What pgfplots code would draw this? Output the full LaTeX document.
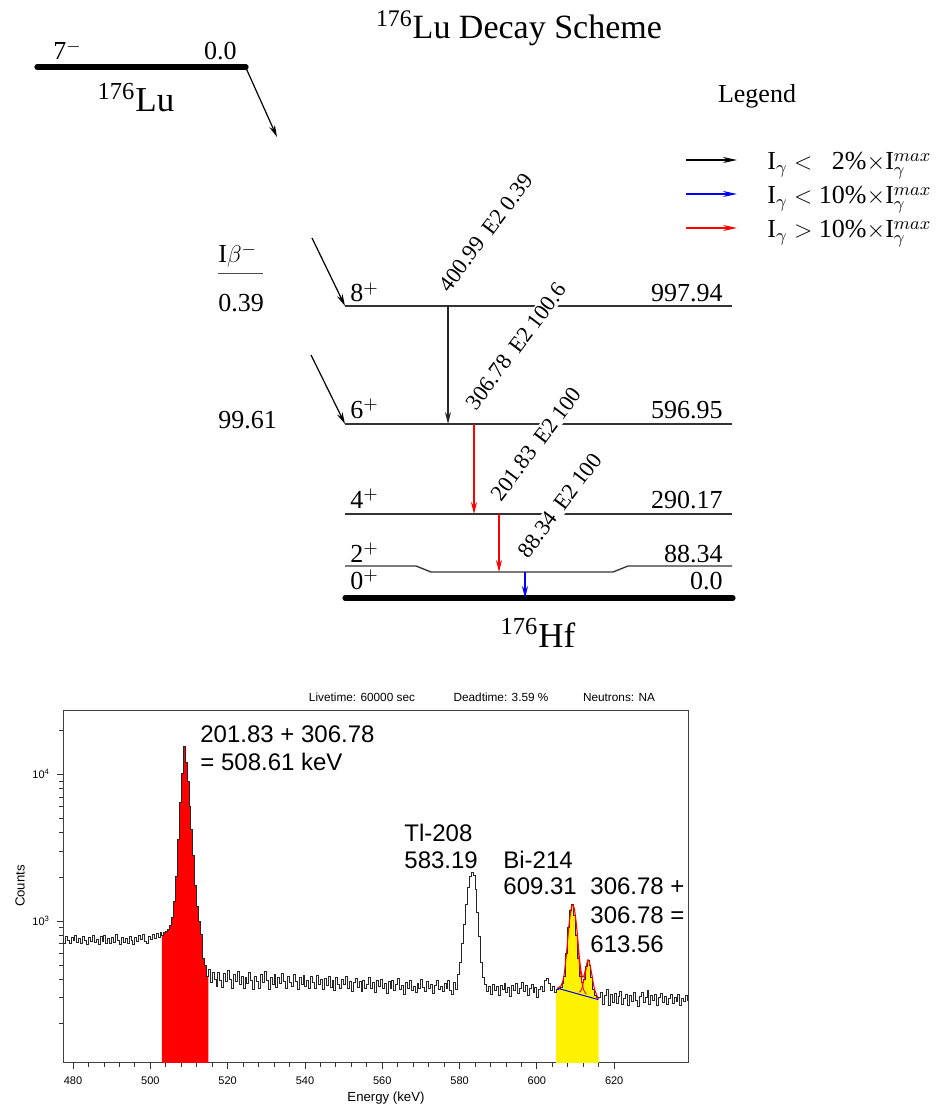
\documentclass[border=0pt]{standalone}
\usepackage{fontspec}
\setmainfont{Liberation Serif}
\newfontfamily\arial{Liberation Sans}
\usepackage{pgfplots}
\pgfplotsset{compat=1.18}
\usepackage{pgfplotstable}
\usetikzlibrary{arrows.meta}

\newcommand\fLev{\fontsize{13}{15}\selectfont}
\newcommand\fTr{\fontsize{11.2}{13}\selectfont}
\newcommand\fTitle{\fontsize{17}{20}\selectfont}
\newcommand\fNuc{\fontsize{17.5}{20}\selectfont}
\newcommand\fAnn{\arial\fontsize{12}{14}\selectfont}
\newcommand\fSmall{\arial\fontsize{5.9}{7}\selectfont}
\newcommand\fLab{\arial\fontsize{6.6}{8}\selectfont}

\pgfplotstableread{
E C
477.0 760
477.5 705
478.0 790
478.5 740
479.0 700
479.5 775
480.0 735
480.5 798
481.0 720
481.5 760
482.0 700
482.5 785
483.0 742
483.5 695
484.0 770
484.5 725
485.0 800
485.5 715
486.0 755
486.5 690
487.0 780
487.5 730
488.0 792
488.5 705
489.0 760
489.5 700
490.0 770
490.5 718
491.0 805
491.5 740
492.0 698
492.5 775
493.0 720
493.5 765
494.0 708
494.5 790
495.0 735
495.5 695
496.0 770
496.5 725
497.0 800
497.5 745
498.0 810
498.5 730
499.0 705
499.5 790
500.0 748
500.5 812
501.0 760
501.5 825
502.0 775
502.5 830
503.0 800
503.5 830
504.0 850
504.5 880
505.0 930
505.5 1050
506.0 1350
506.5 2000
507.0 3600
507.5 6400
508.0 10200
508.5 15400
509.0 12000
509.5 9000
510.0 6000
510.5 4200
511.0 2800
511.5 1750
512.0 1250
512.5 1000
513.0 810
513.5 560
514.0 500
514.5 420
515.0 470
515.5 380
516.0 445
516.5 400
517.0 360
517.5 450
518.0 395
518.5 355
519.0 440
519.5 385
520.0 460
520.5 400
521.0 350
521.5 430
522.0 390
522.5 455
523.0 370
523.5 420
524.0 345
524.5 410
525.0 375
525.5 445
526.0 395
526.5 340
527.0 420
527.5 385
528.0 350
528.5 435
529.0 380
529.5 455
530.0 395
530.5 340
531.0 410
531.5 370
532.0 430
532.5 352
533.0 415
533.5 375
534.0 440
534.5 390
535.0 345
535.5 420
536.0 380
536.5 360
537.0 430
537.5 385
538.0 340
538.5 410
539.0 372
539.5 425
540.0 360
540.5 395
541.0 345
541.5 418
542.0 380
542.5 350
543.0 425
543.5 370
544.0 398
544.5 340
545.0 405
545.5 365
546.0 420
546.5 355
547.0 392
547.5 338
548.0 410
548.5 368
549.0 345
549.5 400
550.0 372
550.5 418
551.0 350
551.5 390
552.0 332
552.5 380
553.0 405
553.5 355
554.0 385
554.5 330
555.0 395
555.5 350
556.0 372
556.5 415
557.0 345
557.5 380
558.0 328
558.5 392
559.0 360
559.5 402
560.0 345
560.5 375
561.0 320
561.5 385
562.0 350
562.5 395
563.0 338
563.5 372
564.0 405
564.5 340
565.0 365
565.5 318
566.0 380
566.5 350
567.0 392
567.5 335
568.0 360
568.5 325
569.0 378
569.5 345
570.0 400
570.5 355
571.0 330
571.5 385
572.0 348
572.5 372
573.0 322
573.5 365
574.0 395
574.5 340
575.0 360
575.5 330
576.0 378
576.5 345
577.0 395
577.5 335
578.0 318
578.5 380
579.0 340
579.5 430
580.0 520
580.5 700
581.0 950
581.5 1300
582.0 1700
582.5 2000
583.0 2150
583.5 2050
584.0 1650
584.5 1150
585.0 780
585.5 520
586.0 410
586.5 370
587.0 330
587.5 360
588.0 318
588.5 372
589.0 335
589.5 358
590.0 310
590.5 365
591.0 340
591.5 378
592.0 325
592.5 355
593.0 305
593.5 362
594.0 338
594.5 375
595.0 320
595.5 350
596.0 380
596.5 330
597.0 362
597.5 312
598.0 348
598.5 372
599.0 325
599.5 355
600.0 300
600.5 342
601.0 360
601.5 330
602.0 395
602.5 405
603.0 375
603.5 335
604.0 360
604.5 325
605.0 340
605.5 345
606.0 355
606.5 375
607.0 420
607.5 600
608.0 900
608.5 1180
609.0 1290
609.5 1100
610.0 800
610.5 560
611.0 420
611.5 380
612.0 400
612.5 490
613.0 540
613.5 500
614.0 410
614.5 340
615.0 310
615.5 300
616.0 300
616.5 325
617.0 270
617.5 310
618.0 340
618.5 265
619.0 315
619.5 280
620.0 322
620.5 275
621.0 305
621.5 330
622.0 270
622.5 298
623.0 318
623.5 268
624.0 312
624.5 285
625.0 328
625.5 290
626.0 262
626.5 305
627.0 325
627.5 278
628.0 300
628.5 335
629.0 272
629.5 310
630.0 288
630.5 318
631.0 265
631.5 300
632.0 322
632.5 280
633.0 308
633.5 270
634.0 295
634.5 318
635.0 275
635.5 302
636.0 285
636.5 315
637.0 268
637.5 298
638.0 282
638.5 310
639.0 290
639.5 292
}\spec

\begin{document}
\begin{tikzpicture}
% ---------- decay scheme (pixel layout) ----------
\begin{axis}[at={(0pt,0pt)}, anchor=south west, width=470pt, height=553pt,
  scale only axis, xmin=0, xmax=940, ymin=0, ymax=1106, y dir=reverse,
  hide axis, clip=false]
% parent level 176Lu
\addplot[black, line width=2.6pt, line cap=round] coordinates {(37,67) (246,67)};
\addplot[black, line width=0.6pt, -{Stealth[length=6pt,width=3pt]}] coordinates {(246,68) (277,137)};
% daughter levels
\addplot[black!80, line width=0.65pt] coordinates {(345,306) (732,306)};
\addplot[black!80, line width=0.65pt] coordinates {(345,424) (732,424)};
\addplot[black!80, line width=0.65pt] coordinates {(345,514) (732,514)};
\addplot[black!80, line width=0.65pt] coordinates {(345,566) (416,566) (431,572) (613,572) (628,566) (732,566)};
\addplot[black, line width=2.6pt, line cap=round] coordinates {(345,598) (733,598)};
% beta feeding
\addplot[black, line width=0.6pt, -{Stealth[length=6pt,width=3pt]}] coordinates {(312,238) (345,306)};
\addplot[black, line width=0.6pt, -{Stealth[length=6pt,width=3pt]}] coordinates {(311,355) (345,424)};
% gamma transitions
\addplot[black!85, line width=0.6pt, -{Stealth[length=6pt,width=3pt]}] coordinates {(448,306) (448,424)};
\addplot[red, line width=0.6pt, -{Stealth[length=6pt,width=3pt]}] coordinates {(474,424) (474,514)};
\addplot[red, line width=0.6pt, -{Stealth[length=6pt,width=3pt]}] coordinates {(499,514) (499,572)};
\addplot[blue, line width=0.6pt, -{Stealth[length=6pt,width=3pt]}] coordinates {(525,572) (525,598)};
% legend arrows
\addplot[black, line width=0.6pt, -{Stealth[length=7pt,width=3pt]}] coordinates {(686,160) (737,160)};
\addplot[blue, line width=0.6pt, -{Stealth[length=7pt,width=3pt]}] coordinates {(686,194) (737,194)};
\addplot[red, line width=0.6pt, -{Stealth[length=7pt,width=3pt]}] coordinates {(686,228) (737,228)};
% I beta underline
\addplot[black!70, line width=0.5pt] coordinates {(218,274) (263,274)};

% texts
\node[anchor=base] at (axis cs:519,39) {\fTitle\textsuperscript{176}Lu Decay Scheme};
\node[anchor=base west, inner sep=0] at (axis cs:53,60) {\fLev 7$^{-}$};
\node[anchor=base east, inner sep=0] at (axis cs:237,60) {\fLev 0.0};
\node[anchor=base] at (axis cs:136,112) {\fNuc\textsuperscript{176}Lu};
\node[anchor=base] at (axis cs:538,647) {\fNuc\textsuperscript{176}Hf};
\node[anchor=base] at (axis cs:757,103) {\fLev Legend};
\node[anchor=base west, inner sep=0] at (axis cs:767,170) {\fLev I$_\gamma$ $<$ \phantom{1}2\%$\times$I$_\gamma^{max}$};
\node[anchor=base west, inner sep=0] at (axis cs:767,204) {\fLev I$_\gamma$ $<$ 10\%$\times$I$_\gamma^{max}$};
\node[anchor=base west, inner sep=0] at (axis cs:767,238) {\fLev I$_\gamma$ $>$ 10\%$\times$I$_\gamma^{max}$};
\node[anchor=base west, inner sep=0] at (axis cs:218,263) {\fLev I$\beta^{-}$};
\node[anchor=base west, inner sep=0] at (axis cs:218,312) {\fLev 0.39};
\node[anchor=base west, inner sep=0] at (axis cs:218,429) {\fLev 99.61};
\node[anchor=base west, inner sep=0] at (axis cs:350,302) {\fLev 8$^{+}$};
\node[anchor=base west, inner sep=0] at (axis cs:350,418) {\fLev 6$^{+}$};
\node[anchor=base west, inner sep=0] at (axis cs:350,508) {\fLev 4$^{+}$};
\node[anchor=base west, inner sep=0] at (axis cs:350,562) {\fLev 2$^{+}$};
\node[anchor=base west, inner sep=0] at (axis cs:350,589) {\fLev 0$^{+}$};
\node[anchor=base east, inner sep=0] at (axis cs:723,302) {\fLev 997.94};
\node[anchor=base east, inner sep=0] at (axis cs:723,418) {\fLev 596.95};
\node[anchor=base east, inner sep=0] at (axis cs:723,508) {\fLev 290.17};
\node[anchor=base east, inner sep=0] at (axis cs:723,562) {\fLev 88.34};
\node[anchor=base east, inner sep=0] at (axis cs:723,589) {\fLev 0.0};
\node[rotate=53, anchor=south west, inner sep=0.8pt, fill=white] at (axis cs:450,296) {\fTr 400.99\ \,E2 0.39};
\node[rotate=53, anchor=south west, inner sep=0.8pt, fill=white] at (axis cs:477,414) {\fTr 306.78\ \,E2 100.6};
\node[rotate=53, anchor=south west, inner sep=0.8pt, fill=white] at (axis cs:502,505) {\fTr 201.83\ \,E2 100};
\node[rotate=53, anchor=south west, inner sep=0.8pt, fill=white] at (axis cs:529,562) {\fTr 88.34\ \,E2 100};

% spectrum header and annotations
\node[anchor=base] at (axis cs:362,701) {\fSmall Livetime: 60000 sec};
\node[anchor=base] at (axis cs:501,701) {\fSmall Deadtime: 3.59 \%};
\node[anchor=base] at (axis cs:619,701) {\fSmall Neutrons: NA};
\node[anchor=base west, inner sep=0] at (axis cs:200,742) {\fAnn 201.83 + 306.78};
\node[anchor=base west, inner sep=0] at (axis cs:200,770) {\fAnn = 508.61 keV};
\node[anchor=base west, inner sep=0] at (axis cs:404,841) {\fAnn Tl-208};
\node[anchor=base west, inner sep=0] at (axis cs:404,868) {\fAnn 583.19};
\node[anchor=base west, inner sep=0] at (axis cs:503,868) {\fAnn Bi-214};
\node[anchor=base west, inner sep=0] at (axis cs:503,894) {\fAnn 609.31};
\node[anchor=base west, inner sep=0] at (axis cs:590,894) {\fAnn 306.78 +};
\node[anchor=base west, inner sep=0] at (axis cs:590,923) {\fAnn 306.78 =};
\node[anchor=base west, inner sep=0] at (axis cs:590,952) {\fAnn 613.56};
\node[rotate=90, anchor=center] at (axis cs:20,886) {\fLab Counts};
\node[anchor=base] at (axis cs:386,1101) {\fLab Energy (keV)};
\end{axis}

% ---------- spectrum ----------
\begin{axis}[at={(31.5pt,21.5pt)}, anchor=south west, width=312.5pt, height=176pt,
  scale only axis, ymode=log, xmin=477.4, xmax=639.1, ymin=108, ymax=27000,
  axis line style={black!75, line width=0.5pt},
  tick pos=left, tick align=outside,
  major tick length=3pt, minor tick length=1.8pt,
  tick style={black!80, line width=0.4pt},
  xtick={480,500,...,620}, minor x tick num=4,
  ytick={1000,10000},
  minor ytick={200,300,400,500,600,700,800,900,2000,3000,4000,5000,6000,7000,8000,9000,20000},
  yticklabels={{10\textsuperscript{3}},{10\textsuperscript{4}}},
  ticklabel style={font=\arial\fontsize{5.5}{6}\selectfont},
  xticklabel={\pgfmathprintnumber[fixed,precision=0]{\tick}},
  /pgf/number format/assume math mode=true,
  xticklabel style={yshift=-0.5pt}]
\addplot[fill=red, draw=none, const plot, restrict x to domain=503:515] table[x=E,y=C] {\spec} \closedcycle;
\addplot[fill=yellow, draw=none, const plot, restrict x to domain=605:616] table[x=E,y=C] {\spec} \closedcycle;
\addplot[black!85, line width=0.5pt, const plot] table[x=E,y=C] {\spec};
% fitted components
\addplot[red, line width=0.55pt, smooth] coordinates {(605.3,349) (606.3,365) (607.0,425) (607.7,620) (608.3,940) (608.9,1230) (609.3,1290) (609.8,1170) (610.4,850) (611.0,560) (611.6,430) (612.1,420) (612.6,470) (613.2,545) (613.7,510) (614.3,420) (614.9,345) (615.9,295)};
\addplot[red, line width=0.45pt, smooth] coordinates {(610.4,820) (611.0,520) (611.6,390) (612.2,335) (612.8,318)};
\addplot[red, line width=0.45pt, smooth] coordinates {(611.0,328) (611.6,345) (612.2,400) (612.8,480)};
\addplot[blue, line width=0.5pt] coordinates {(605.3,349) (615.9,292)};
\end{axis}
\pgfresetboundingbox
\path[use as bounding box] (0,0) rectangle (470pt,553pt);
\end{tikzpicture}
\end{document}
